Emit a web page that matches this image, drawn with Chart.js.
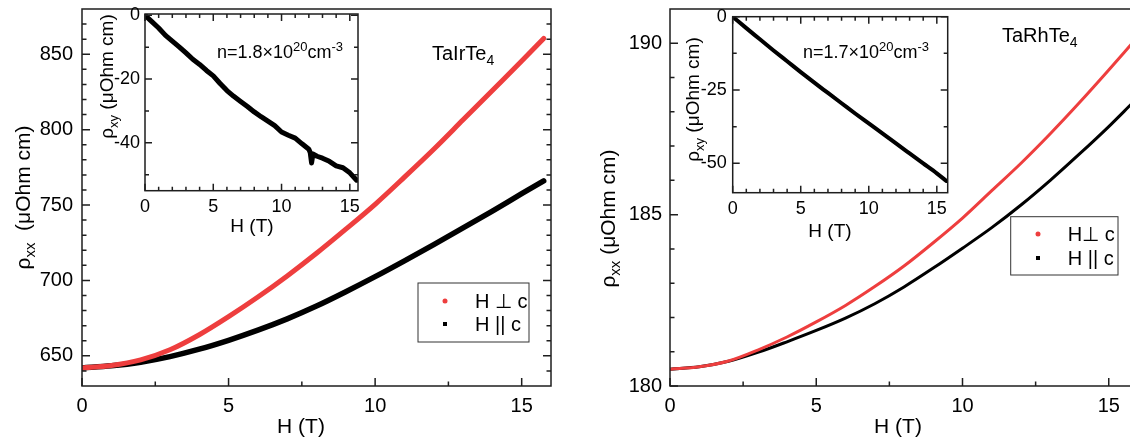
<!DOCTYPE html>
<html>
<head>
<meta charset="utf-8">
<script src="https://cdn.jsdelivr.net/npm/chart.js@4.4.0/dist/chart.umd.min.js"></script>
<style>
html, body { margin: 0; padding: 0; width: 1130px; height: 437px; overflow: hidden; background: #fff; }
canvas { position: absolute; top: 0; }
</style>
</head>
<body>
<canvas id="mainIr" width="565" height="437" style="left:0px"></canvas>
<canvas id="mainRh" width="565" height="437" style="left:585px"></canvas>
<canvas id="insetIr" width="280" height="240" style="left:90px"></canvas>
<canvas id="insetRh" width="285" height="245" style="left:675px"></canvas>
<script>
// ---- TaIrTe4, rho_xx vs H
const fieldIr = [0, 1, 2, 3, 4, 5, 6, 7, 8, 9, 10, 11, 12, 13, 14, 15, 15.75];
const rhoPerpIr = [642, 643.6, 647.3, 654, 664, 676, 689, 703, 718, 734, 750.5, 768.5, 787, 806.5, 826, 845.5, 860.5];
const rhoParIr = [642, 643.4, 645.8, 649.5, 654.4, 660.3, 667, 674.5, 683, 692.5, 702.5, 713, 723.8, 734.8, 746, 757.5, 766];

// ---- TaRhTe4, rho_xx vs H
const fieldRh = [0, 1, 2, 3, 4, 5, 6, 7, 8, 9, 10, 11, 12, 13, 14, 15, 15.8];
const rhoPerpRh = [180.49, 180.56, 180.73, 181.05, 181.43, 181.87, 182.35, 182.9, 183.5, 184.18, 184.9, 185.7, 186.5, 187.36, 188.27, 189.22, 190.0];
const rhoParRh = [180.49, 180.56, 180.72, 180.98, 181.29, 181.62, 181.98, 182.4, 182.89, 183.44, 184.02, 184.62, 185.28, 186.0, 186.77, 187.57, 188.25];

// ---- Hall insets, rho_xy vs H
const hallFieldIr = [0, 0.5, 1, 1.5, 2, 2.5, 3, 3.5, 4, 4.5, 5, 5.5, 6, 6.5, 7, 7.5, 8, 8.5, 9, 9.5, 10, 10.5, 11, 11.5, 12, 12.1, 12.2, 12.3, 12.6, 13, 13.5, 14, 14.5, 15, 15.5];
const hallIr = [0, -2, -4, -6.3, -8.1, -9.9, -11.8, -13.8, -15.4, -17.3, -19, -21.4, -23.6, -25.4, -27, -28.6, -30.3, -31.8, -33.2, -34.6, -36.6, -37.6, -38.5, -40.3, -42, -43, -46.3, -43.5, -44.2, -44.8, -45.8, -47.2, -47.8, -49.4, -51.7];
const hallFieldRh = [0, 1, 2, 3, 4, 5, 6, 7, 8, 9, 10, 11, 12, 13, 14, 15, 15.7];
const hallRh = [0, -3.9, -7.7, -11.5, -15.2, -18.9, -22.5, -26, -29.5, -33, -36.4, -39.8, -43.2, -46.6, -50, -53.4, -56];

// ---- ticks
const mainXTicks = [0, 5, 10, 15];
const mainXMinor = [2.5, 7.5, 12.5];
const irYTicks = [650, 700, 750, 800, 850];
const irYMinor = [640, 660, 670, 680, 690, 710, 720, 730, 740, 760, 770, 780, 790, 810, 820, 830, 840, 860, 870];
const rhYTicks = [180, 185, 190];
const rhYMinor = [181, 182, 183, 184, 186, 187, 188, 189];
const insetXTicks = [0, 5, 10, 15];
const insetXMinor = [1, 2, 3, 4, 6, 7, 8, 9, 11, 12, 13, 14];
const hallIrTicks = [0, -20, -40];
const hallIrMinor = [-10, -30, -50];
const hallRhTicks = [0, -25, -50];
const hallRhMinor = [-12.5, -37.5];

const RED = '#ee3e3e';
const AXIS = '#1e1e1e';
const FAMILY = '"Liberation Sans", Arial, sans-serif';

Chart.defaults.font.family = FAMILY;
Chart.defaults.color = '#000';

// text with sub/superscripts
function richText(ctx, parts, x, y, size, align) {
  const fontOf = k => (k ? Math.round(size * 0.7) : size) + 'px ' + FAMILY;
  let w = 0;
  parts.forEach(([t, k]) => { ctx.font = fontOf(k); w += ctx.measureText(t).width; });
  let cx = align === 'center' ? x - w / 2 : x;
  const base = y + size * 0.36;
  ctx.textAlign = 'left';
  ctx.textBaseline = 'alphabetic';
  ctx.fillStyle = '#000';
  parts.forEach(([t, k]) => {
    ctx.font = fontOf(k);
    const dy = k === 'sub' ? size * 0.25 : k === 'sup' ? -size * 0.42 : 0;
    ctx.fillText(t, cx, base + dy);
    cx += ctx.measureText(t).width;
  });
}

const decoCfg = {};

const decoPlugin = {
  id: 'deco',
  afterDraw(chart) {
    const o = decoCfg[chart.canvas.id];
    if (!o) return;
    const ctx = chart.ctx, a = chart.chartArea;
    const xs = chart.scales.x, ys = chart.scales.y;
    ctx.save();
    ctx.strokeStyle = AXIS;
    ctx.lineWidth = 1.5;
    ctx.strokeRect(a.left, a.top, a.right - a.left, a.bottom - a.top);

    ctx.beginPath();
    const xt = o.xMajor.map(v => [v, o.major]).concat(o.xMinor.map(v => [v, o.minor]));
    xt.forEach(([v, len]) => {
      const px = xs.getPixelForValue(v);
      if (px < a.left || px > a.right) return;
      if (o.sides.includes('bottom')) { ctx.moveTo(px, a.bottom); ctx.lineTo(px, a.bottom - len); }
      if (o.sides.includes('top')) { ctx.moveTo(px, a.top); ctx.lineTo(px, a.top + len); }
    });
    const yt = o.yMajor.map(v => [v, o.major]).concat(o.yMinor.map(v => [v, o.minor]));
    yt.forEach(([v, len]) => {
      const py = ys.getPixelForValue(v);
      if (py < a.top || py > a.bottom) return;
      if (o.sides.includes('left')) { ctx.moveTo(a.left, py); ctx.lineTo(a.left + len, py); }
      if (o.sides.includes('right')) { ctx.moveTo(a.right, py); ctx.lineTo(a.right - len, py); }
    });
    ctx.stroke();

    // axis titles
    ctx.save();
    ctx.translate(o.yTitle.x, o.yTitle.y);
    ctx.rotate(-Math.PI / 2);
    richText(ctx, o.yTitle.parts, 0, 0, o.yTitle.size, 'center');
    ctx.restore();
    richText(ctx, o.xTitle.parts, o.xTitle.x, o.xTitle.y, o.xTitle.size, 'center');

    (o.notes || []).forEach(n => richText(ctx, n.parts, n.x, n.y, n.size, 'left'));

    if (o.legend) {
      const L = o.legend;
      ctx.lineWidth = 1;
      ctx.strokeStyle = '#333';
      ctx.strokeRect(L.box[0], L.box[1], L.box[2], L.box[3]);
      chart.data.datasets.forEach((ds, i) => {
        ctx.fillStyle = ds.borderColor;
        if (ds.pointStyle === 'circle') {
          ctx.beginPath();
          ctx.arc(L.mx, L.my[i], 2.5, 0, Math.PI * 2);
          ctx.fill();
        } else {
          ctx.fillRect(L.mx - 2, L.my[i] - 2, 4, 4);
        }
        richText(ctx, [[L.labels[i]]], L.tx, L.my[i], L.size, 'left');
      });
    }
    ctx.restore();
  }
};

function series(xs, ys, label, color, width, style, smooth) {
  return {
    label: label,
    data: xs.map((x, i) => ({ x: x, y: ys[i] })),
    showLine: true,
    borderColor: color,
    backgroundColor: color,
    borderWidth: width,
    pointRadius: 0,
    pointStyle: style,
    borderJoinStyle: 'round',
    borderCapStyle: 'round',
    cubicInterpolationMode: smooth ? 'monotone' : 'default',
    tension: 0
  };
}

function panel(id, datasets, s) {
  return new Chart(document.getElementById(id), {
    type: 'scatter',
    data: { datasets: datasets },
    options: {
      responsive: false,
      animation: false,
      devicePixelRatio: 1,
      layout: { padding: s.padding },
      plugins: { legend: { display: false }, tooltip: { enabled: false } },
      scales: {
        x: {
          type: 'linear', min: s.x[0], max: s.x[1],
          grid: { display: false, drawTicks: false }, border: { display: false },
          ticks: { font: { size: s.font }, padding: s.xPad, maxRotation: 0, autoSkip: false, color: '#000' },
          afterBuildTicks: sc => { sc.ticks = s.xTicks.map(v => ({ value: v })); },
          afterFit: sc => { sc.height = s.xHeight; sc.paddingLeft = 0; sc.paddingRight = 0; }
        },
        y: {
          type: 'linear', min: s.y[0], max: s.y[1],
          grid: { display: false, drawTicks: false }, border: { display: false },
          ticks: { font: { size: s.font }, padding: s.yPad, autoSkip: false, color: '#000' },
          afterBuildTicks: sc => { sc.ticks = s.yTicks.map(v => ({ value: v })); },
          afterFit: sc => { sc.width = s.yWidth; sc.paddingTop = 0; sc.paddingBottom = 0; }
        }
      }
    },
    plugins: [decoPlugin]
  });
}

// ---------- TaIrTe4 main
decoCfg.mainIr = {
  sides: ['left', 'bottom', 'right'], major: 8, minor: 4.5,
  xMajor: mainXTicks, xMinor: mainXMinor, yMajor: irYTicks, yMinor: irYMinor,
  yTitle: { x: 22, y: 197.5, size: 21, parts: [['ρ'], ['xx', 'sub'], ['  (μOhm cm)']] },
  xTitle: { x: 301, y: 425, size: 21, parts: [['H (T)']] },
  notes: [{ x: 432, y: 53, size: 20, parts: [['TaIrTe'], ['4', 'sub']] }],
  legend: { box: [418, 283, 111, 59], mx: 445, my: [301, 324], tx: 475, size: 20, labels: ['H ⊥ c', 'H || c'] }
};
panel('mainIr', [
  series(fieldIr, rhoPerpIr, 'H ⊥ c', RED, 5, 'circle', true),
  series(fieldIr, rhoParIr, 'H || c', '#000', 5.5, 'rect', true)
], {
  x: [0, 16], y: [630, 880], xTicks: mainXTicks, yTicks: irYTicks,
  font: 20, xPad: 8, yPad: 9, yWidth: 82, xHeight: 51,
  padding: { left: 0, top: 9, right: 14, bottom: 0 }
});

// ---------- TaRhTe4 main
decoCfg.mainRh = {
  sides: ['left', 'bottom', 'right'], major: 8, minor: 4.5,
  xMajor: mainXTicks, xMinor: mainXMinor, yMajor: rhYTicks, yMinor: rhYMinor,
  yTitle: { x: 22, y: 218.5, size: 21, parts: [['ρ'], ['xx', 'sub'], [' (μOhm cm)']] },
  xTitle: { x: 313, y: 425, size: 21, parts: [['H (T)']] },
  notes: [{ x: 417, y: 35, size: 20, parts: [['TaRhTe'], ['4', 'sub']] }],
  legend: { box: [425.7, 216.7, 107.3, 58.3], mx: 453, my: [234, 258], tx: 482.7, size: 20, labels: ['H⊥ c', 'H || c'] }
};
panel('mainRh', [
  series(fieldRh, rhoPerpRh, 'H⊥ c', RED, 3, 'circle', true),
  series(fieldRh, rhoParRh, 'H || c', '#000', 3, 'rect', true)
], {
  x: [0, 16], y: [180, 191], xTicks: mainXTicks, yTicks: rhYTicks,
  font: 20, xPad: 8, yPad: 8, yWidth: 85, xHeight: 51,
  padding: { left: 0, top: 9, right: 12, bottom: 0 }
});

// ---------- TaIrTe4 Hall inset
decoCfg.insetIr = {
  sides: ['left', 'bottom', 'right', 'top'], major: 7, minor: 4,
  xMajor: insetXTicks, xMinor: insetXMinor, yMajor: hallIrTicks, yMinor: hallIrMinor,
  yTitle: { x: 16, y: 76.5, size: 19, parts: [['ρ'], ['xy', 'sub'], [' (μOhm cm)']] },
  xTitle: { x: 162, y: 225, size: 19, parts: [['H (T)']] },
  notes: [{ x: 127, y: 52, size: 18, parts: [['n=1.8×10'], ['20', 'sup'], ['cm'], ['-3', 'sup']] }]
};
panel('insetIr', [
  series(hallFieldIr, hallIr, 'rho_xy', '#000', 5, 'rect', false)
], {
  x: [0, 15.6], y: [-55, 0.4], xTicks: insetXTicks, yTicks: hallIrTicks,
  font: 18, xPad: 6, yPad: 5, yWidth: 55, xHeight: 49.3,
  padding: { left: 0, top: 14, right: 12, bottom: 0 }
});

// ---------- TaRhTe4 Hall inset
decoCfg.insetRh = {
  sides: ['left', 'bottom', 'right', 'top'], major: 7, minor: 4,
  xMajor: insetXTicks, xMinor: insetXMinor, yMajor: hallRhTicks, yMinor: hallRhMinor,
  yTitle: { x: 17, y: 99.5, size: 19, parts: [['ρ'], ['xy', 'sub'], [' (μOhm cm)']] },
  xTitle: { x: 155, y: 230, size: 19, parts: [['H (T)']] },
  notes: [{ x: 128, y: 52, size: 18, parts: [['n=1.7×10'], ['20', 'sup'], ['cm'], ['-3', 'sup']] }]
};
panel('insetRh', [
  series(hallFieldRh, hallRh, 'rho_xy', '#000', 4, 'rect', true)
], {
  x: [0, 15.8], y: [-60, 0], xTicks: insetXTicks, yTicks: hallRhTicks,
  font: 18, xPad: 6, yPad: 6, yWidth: 57.7, xHeight: 52.3,
  padding: { left: 0, top: 16.7, right: 12.3, bottom: 0 }
});
</script>
</body>
</html>
